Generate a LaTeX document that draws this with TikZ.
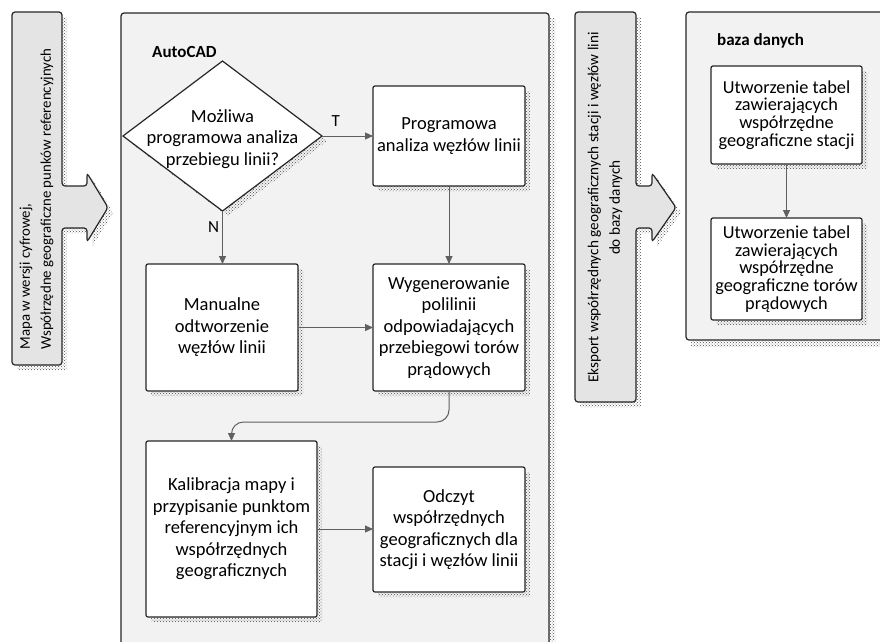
\documentclass[tikz,border=0pt]{standalone}
\usepackage{fontspec}
\setmainfont{Carlito}
\usetikzlibrary{arrows.meta,shapes.geometric,shadows,patterns}
\definecolor{contfill}{HTML}{F2F2F2}
\definecolor{arrfill}{HTML}{E4E4E4}
\definecolor{edge}{HTML}{262626}
\definecolor{conncol}{HTML}{606060}
\tikzset{
  shad/.style={drop shadow={shadow xshift=5pt, shadow yshift=-5pt, opacity=1, fill=none, pattern=crosshatch dots, pattern color=black!70}},
  shadpath/.style={pattern=crosshatch dots, pattern color=black!70},
  boxtext/.style={font=\fontsize{18.5}{21.5}\selectfont, align=center},
  stepbox/.style={draw=edge, line width=1.2pt, fill=white, rounded corners=2pt, inner sep=0pt, outer sep=0pt, shad, boxtext},
  tightbox/.style={stepbox, font=\fontsize{18.3}{17.6}\selectfont},
  container/.style={draw=edge, line width=1.2pt, fill=contfill, rounded corners=3pt},
  bigarrow/.style={draw=edge, line width=1.2pt, fill=arrfill, rounded corners=3pt},
  conn/.style={draw=conncol, line width=1pt, -{Triangle[length=8pt,width=7pt]}},
  lbl/.style={font=\fontsize{17}{20}\selectfont, inner sep=0pt},
  title/.style={font=\fontsize{17}{20}\selectfont\bfseries, inner sep=0pt, anchor=west},
  rottext/.style={rotate=90, inner sep=0pt}
}
\begin{document}
\begin{tikzpicture}[x=1pt,y=-1pt]
\clip (0,0) rectangle (880,641);
\fill[white] (0,0) rectangle (880,641);
% left big arrow
\path[shadpath, shift={(5,5)}] (12,12) -- (62,12) -- (62,186) -- (87,186) -- (87,173) -- (108,207.5) -- (87,242) -- (87,228) -- (62,228) -- (62,365) -- (12,365) -- cycle;
\path[bigarrow] (12,12) -- (62,12) -- (62,186) -- (87,186) -- (87,173) -- (108,207.5) -- (87,242) -- (87,228) -- (62,228) -- (62,365) -- (12,365) -- cycle;
\node[rottext, align=left, font=\fontsize{14.8}{21}\selectfont] (lt) at (36.5,199) {Mapa w wersji cyfrowej,\\Współrzędne geograficzne punków referencyjnych};
% export big arrow
\path[shadpath, shift={(5,5)}] (575,12) -- (636,12) -- (636,186) -- (652,186) -- (652,173) -- (676,207.5) -- (652,242) -- (652,228) -- (636,228) -- (636,402) -- (575,402) -- cycle;
\path[bigarrow] (575,12) -- (636,12) -- (636,186) -- (652,186) -- (652,173) -- (676,207.5) -- (652,242) -- (652,228) -- (636,228) -- (636,402) -- (575,402) -- cycle;
\node[rottext, align=center, font=\fontsize{15.2}{21.5}\selectfont] (et) at (605,207.5) {Eksport współrzędnych geograficznych stacji i węzłów lini\\do bazy danych};
% containers
\path[shadpath] (126,18) rectangle (555,670);
\path[container] (121,13) rectangle (549,665);
\node[title] (acad) at (152,52) {AutoCAD};
\path[shadpath] (691,17) rectangle (905,346);
\path[container] (686,12) rectangle (900,340);
\node[title] (baza) at (717,41) {baza danych};
% AutoCAD nodes
\node[diamond, draw=edge, line width=1.2pt, fill=white, minimum width=199pt, minimum height=150pt, inner sep=0pt, outer sep=0pt, shad] (d) at (222.5,136) {};
\node[boxtext, inner sep=0pt] (dt) at (222.5,139) {Możliwa\\programowa analiza\\przebiegu linii?};
\node[stepbox, minimum width=152pt, minimum height=100pt] (prog) at (449,136) {Programowa\\analiza węzłów linii};
\node[stepbox, minimum width=152pt, minimum height=127pt] (man) at (222,327.5) {Manualne\\odtworzenie\\węzłów linii};
\node[stepbox, minimum width=152pt, minimum height=127pt] (wyg) at (449,327.5) {Wygenerowanie\\polilinii\\odpowiadających\\przebiegowi torów\\prądowych};
\node[stepbox, minimum width=171pt, minimum height=176pt] (kal) at (231.5,529) {Kalibracja mapy i\\przypisanie punktom\\referencyjnym ich\\współrzędnych\\geograficznych};
\node[stepbox, minimum width=152pt, minimum height=125pt] (odc) at (449,529.5) {Odczyt\\współrzędnych\\geograficznych dla\\stacji i węzłów linii};
% baza nodes
\node[tightbox, minimum width=151pt, minimum height=98pt] (u1) at (786.5,115) {Utworzenie tabel\\zawierających\\współrzędne\\geograficzne stacji};
\node[tightbox, minimum width=151pt, minimum height=102pt] (u2) at (786.5,269) {Utworzenie tabel\\zawierających\\współrzędne\\geograficzne torów\\prądowych};
% connectors
\draw[conn] (d.east) -- (prog.west) node[lbl, pos=0.27, above=9pt] {T};
\draw[conn] (d.south) -- (d.south |- man.north) node[lbl, pos=0.3, left=3pt] {N};
\draw[conn] (prog.south) -- (wyg.north);
\draw[conn] (man.east) -- (wyg.west);
\draw[conn, rounded corners=12pt] (wyg.south) -- ++(0,31) -| (kal.north);
\draw[conn] (kal.east) -- (kal.east -| odc.west);
\draw[conn] (u1.south) -- (u2.north);
\end{tikzpicture}
\end{document}
